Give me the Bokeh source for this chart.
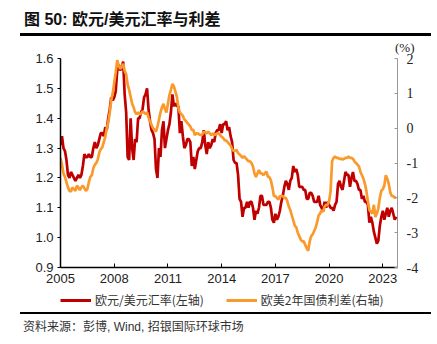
from bokeh.plotting import figure
from bokeh.layouts import column
from bokeh.models import (Range1d, LinearAxis, FixedTicker, Legend, LegendItem,
                          Title, Div, CustomJSTickFormatter)
from bokeh.embed import file_html
from bokeh.resources import INLINE

# ---------------- data (monthly, Jan 2005 .. Oct 2023) ----------------
start_year = 2005

eurusd = [
    # 2005
    1.31, 1.34, 1.30, 1.29, 1.26, 1.21, 1.20, 1.22, 1.21, 1.20, 1.19, 1.20,
    # 2006
    1.21, 1.20, 1.21, 1.24, 1.28, 1.27, 1.27, 1.28, 1.27, 1.27, 1.30, 1.32,
    # 2007
    1.30, 1.31, 1.33, 1.35, 1.35, 1.34, 1.37, 1.36, 1.40, 1.43, 1.47, 1.46,
    # 2008
    1.47, 1.49, 1.56, 1.58, 1.56, 1.57, 1.59, 1.48, 1.42, 1.27, 1.26, 1.40,
    # 2009
    1.30, 1.26, 1.33, 1.32, 1.40, 1.40, 1.42, 1.43, 1.47, 1.48, 1.50, 1.43,
    # 2010
    1.39, 1.36, 1.35, 1.33, 1.23, 1.20, 1.30, 1.27, 1.36, 1.39, 1.30, 1.33,
    # 2011
    1.36, 1.38, 1.42, 1.48, 1.44, 1.45, 1.44, 1.44, 1.35, 1.39, 1.34, 1.30,
    # 2012
    1.31, 1.33, 1.33, 1.32, 1.24, 1.27, 1.23, 1.26, 1.29, 1.30, 1.30, 1.32,
    # 2013
    1.36, 1.31, 1.28, 1.32, 1.30, 1.31, 1.33, 1.32, 1.35, 1.36, 1.36, 1.38,
    # 2014
    1.35, 1.38, 1.38, 1.39, 1.36, 1.37, 1.34, 1.32, 1.26, 1.25, 1.25, 1.21,
    # 2015
    1.13, 1.12, 1.07, 1.10, 1.10, 1.12, 1.10, 1.12, 1.12, 1.10, 1.06, 1.09,
    # 2016
    1.08, 1.10, 1.14, 1.14, 1.11, 1.11, 1.11, 1.12, 1.12, 1.10, 1.06, 1.05,
    # 2017
    1.08, 1.06, 1.07, 1.09, 1.12, 1.14, 1.17, 1.19, 1.18, 1.16, 1.19, 1.20,
    # 2018
    1.24, 1.22, 1.23, 1.21, 1.17, 1.17, 1.17, 1.16, 1.16, 1.13, 1.13, 1.15,
    # 2019
    1.15, 1.14, 1.12, 1.12, 1.12, 1.14, 1.11, 1.10, 1.09, 1.12, 1.10, 1.12,
    # 2020
    1.11, 1.10, 1.10, 1.09, 1.11, 1.12, 1.18, 1.19, 1.17, 1.16, 1.19, 1.22,
    # 2021
    1.21, 1.21, 1.17, 1.20, 1.22, 1.19, 1.19, 1.18, 1.16, 1.16, 1.13, 1.14,
    # 2022
    1.12, 1.12, 1.11, 1.05, 1.07, 1.05, 1.02, 1.00, 0.98, 0.99, 1.04, 1.07,
    # 2023
    1.09, 1.06, 1.08, 1.10, 1.07, 1.09, 1.10, 1.08, 1.06, 1.07,
]

spread = [
    # 2005
    -0.85, -1.05, -1.30, -1.40, -1.55, -1.70, -1.80, -1.82, -1.70, -1.75, -1.80, -1.65,
    # 2006
    -1.70, -1.78, -1.70, -1.65, -1.72, -1.80, -1.75, -1.55, -1.40, -1.35, -1.15, -1.05,
    # 2007
    -1.00, -0.90, -0.70, -0.60, -0.55, -0.40, -0.25, 0.00, 0.15, 0.45, 0.80, 1.00,
    # 2008
    1.30, 1.60, 1.95, 1.80, 1.70, 1.75, 1.85, 1.65, 1.55, 1.25, 1.10, 0.90,
    # 2009
    0.70, 0.60, 0.45, 0.40, 0.45, 0.40, 0.42, 0.48, 0.45, 0.40, 0.45, 0.30,
    # 2010
    0.20, 0.10, 0.00, -0.05, -0.10, 0.05, 0.25, 0.45, 0.60, 0.70, 0.55, 0.45,
    # 2011
    0.70, 0.95, 1.10, 1.27, 1.20, 1.05, 0.90, 0.60, 0.45, 0.40, 0.35, 0.25,
    # 2012
    0.20, 0.15, 0.10, 0.05, -0.05, -0.05, -0.20, -0.15, -0.15, -0.18, -0.20, -0.18,
    # 2013
    -0.10, -0.12, -0.15, -0.10, -0.15, -0.20, -0.15, -0.20, -0.18, -0.15, -0.15, -0.20,
    # 2014
    -0.25, -0.28, -0.35, -0.35, -0.40, -0.45, -0.50, -0.60, -0.65, -0.65, -0.62, -0.72,
    # 2015
    -0.75, -0.80, -0.85, -0.80, -0.85, -0.90, -0.95, -0.95, -1.00, -1.10, -1.30, -1.40,
    # 2016
    -1.30, -1.20, -1.30, -1.30, -1.35, -1.30, -1.25, -1.40, -1.40, -1.50, -1.70, -1.95,
    # 2017
    -1.95, -2.00, -2.05, -1.95, -1.95, -1.95, -2.00, -2.00, -2.10, -2.25, -2.35, -2.50,
    # 2018
    -2.65, -2.80, -2.85, -3.00, -3.10, -3.20, -3.25, -3.25, -3.35, -3.45, -3.52, -3.25,
    # 2019
    -3.10, -3.05, -2.95, -2.85, -2.70, -2.50, -2.45, -2.35, -2.40, -2.25, -2.20, -2.20,
    # 2020
    -2.10, -1.80, -0.95, -0.85, -0.82, -0.85, -0.85, -0.88, -0.88, -0.90, -0.88, -0.85,
    # 2021
    -0.85, -0.82, -0.85, -0.85, -0.88, -0.95, -1.00, -1.05, -1.10, -1.25, -1.35, -1.45,
    # 2022
    -1.60, -1.80, -2.10, -2.35, -2.40, -2.45, -2.20, -2.55, -2.45, -2.30, -2.00, -1.80,
    # 2023
    -1.75, -1.65, -1.35, -1.45, -1.60, -1.85, -1.95, -1.95, -2.00, -1.98,
]

year_ticks = [2005, 2008, 2011, 2014, 2017, 2020, 2023]
left_ticks = [0.9, 1.0, 1.1, 1.2, 1.3, 1.4, 1.5, 1.6]
right_ticks = [-4, -3, -2, -1, 0, 1, 2]

title_text = "图 50: 欧元/美元汇率与利差"
source_text = "资料来源：彭博, Wind, 招银国际环球市场"
name_fx = "欧元/美元汇率(左轴)"
name_spread = "欧美2年国债利差(右轴)"
unit_text = "(%)"

x = [start_year + i / 12 for i in range(len(eurusd))]

RED = "#C00000"
ORANGE = "#FA9A2C"
SANS = "Liberation Sans"
CJK = "Noto Sans CJK SC"
FONT_STACK = "'Liberation Sans','Noto Sans CJK SC',sans-serif"

# ---------------- header (title) + rule ----------------
header = Div(text=title_text, width=411, height=33, margin=(0, 6, 0, 20),
             styles={"box-sizing": "border-box",
                     "padding": "11px 0 0 4px",
                     "font-family": FONT_STACK, "font-weight": "bold",
                     "font-size": "16px", "line-height": "18px",
                     "color": "#111111", "white-space": "nowrap"})
rule_top = Div(text="", width=411, height=3, margin=(0, 6, 0, 20),
               styles={"background-color": "#000000"})

# ---------------- main figure ----------------
p = figure(width=437, height=254, output_backend="svg", toolbar_location=None,
           x_range=Range1d(2005, 2023.82), y_range=Range1d(0.9, 1.6),
           min_border_left=60, min_border_right=40, min_border_top=22,
           min_border_bottom=23, background_fill_color="white",
           border_fill_color="white", margin=0)
p.outline_line_color = None
p.xgrid.visible = False
p.ygrid.visible = False
p.extra_y_ranges = {"r": Range1d(-4, 2)}

p.line(x, eurusd, line_color=RED, line_width=2.7)
p.line(x[:len(spread)], spread, line_color=ORANGE, line_width=2.7,
       y_range_name="r")

# left axis
ya = p.yaxis[0]
ya.ticker = FixedTicker(ticks=left_ticks)
ya.formatter = CustomJSTickFormatter(code="return tick.toFixed(1);")
ya.axis_line_color = "black"
ya.axis_line_width = 1.5
ya.major_tick_line_color = "black"
ya.major_tick_in = 0
ya.major_tick_out = 3
ya.minor_tick_line_color = None
ya.major_label_standoff = 4
ya.major_label_text_font = SANS
ya.major_label_text_font_size = "13px"
ya.major_label_text_color = "#222222"

# bottom axis
xa = p.xaxis[0]
xa.ticker = FixedTicker(ticks=year_ticks)
xa.formatter = CustomJSTickFormatter(code="return tick.toFixed(0);")
xa.axis_line_color = "black"
xa.axis_line_width = 1.5
xa.major_tick_line_color = "black"
xa.major_tick_in = 4
xa.major_tick_out = 0
xa.minor_tick_line_color = None
xa.major_label_standoff = 6
xa.major_label_text_font = SANS
xa.major_label_text_font_size = "13px"
xa.major_label_text_color = "#222222"

# right axis
ra = LinearAxis(y_range_name="r", ticker=FixedTicker(ticks=right_ticks))
ra.formatter = CustomJSTickFormatter(code="return tick.toFixed(0);")
ra.axis_line_color = "#999999"
ra.axis_line_width = 1
ra.major_tick_line_color = "#999999"
ra.major_tick_in = 3
ra.major_tick_out = 0
ra.minor_tick_line_color = None
ra.major_label_standoff = 9
ra.major_label_text_font = "Liberation Serif"
ra.major_label_text_font_size = "14px"
ra.major_label_text_color = "#222222"
p.add_layout(ra, "right")

# unit label above the right axis
p.add_layout(Title(text=unit_text, align="right", offset=-17, standoff=4,
                   vertical_align="top",
                   text_font="Liberation Serif", text_font_size="13px",
                   text_font_style="normal", text_color="#222222"), "above")

# ---------------- legend strip (its frame is aligned with the main frame) ----
lg = figure(width=437, height=20, output_backend="svg", toolbar_location=None,
            x_range=Range1d(0, 1), y_range=Range1d(0, 1),
            x_axis_type=None, y_axis_type=None, min_border=0, margin=0,
            border_fill_color="white", background_fill_color="white")
lg.outline_line_color = None
lg.grid.visible = False
# same series, lying outside this strip's range: they only feed the legend keys
k_fx = lg.line(x, eurusd, line_color=RED, line_width=3)
k_sp = lg.line(x, spread, line_color=ORANGE, line_width=3)
legend = Legend(items=[LegendItem(label=name_fx, renderers=[k_fx]),
                       LegendItem(label=name_spread, renderers=[k_sp])],
                orientation="horizontal", location=(0, 2),
                label_text_font=CJK, label_text_font_size="12px",
                label_text_color="#333333", glyph_width=31, glyph_height=16,
                label_height=16, label_standoff=4, spacing=22, padding=0,
                margin=0, border_line_color=None, background_fill_alpha=0)
lg.add_layout(legend)

# ---------------- footer (rule + source) ----------------
footer = Div(text=source_text, width=411, height=32, margin=(2, 6, 0, 20),
             styles={"border-top": "2px solid #000000",
                     "box-sizing": "border-box",
                     "padding": "6px 0 0 3px",
                     "font-family": FONT_STACK, "font-size": "12px",
                     "line-height": "15px", "color": "#333333",
                     "white-space": "nowrap"})

layout = column(header, rule_top, p, lg, footer, spacing=0, margin=0)

open("out.html", "w").write(file_html(layout, INLINE))
